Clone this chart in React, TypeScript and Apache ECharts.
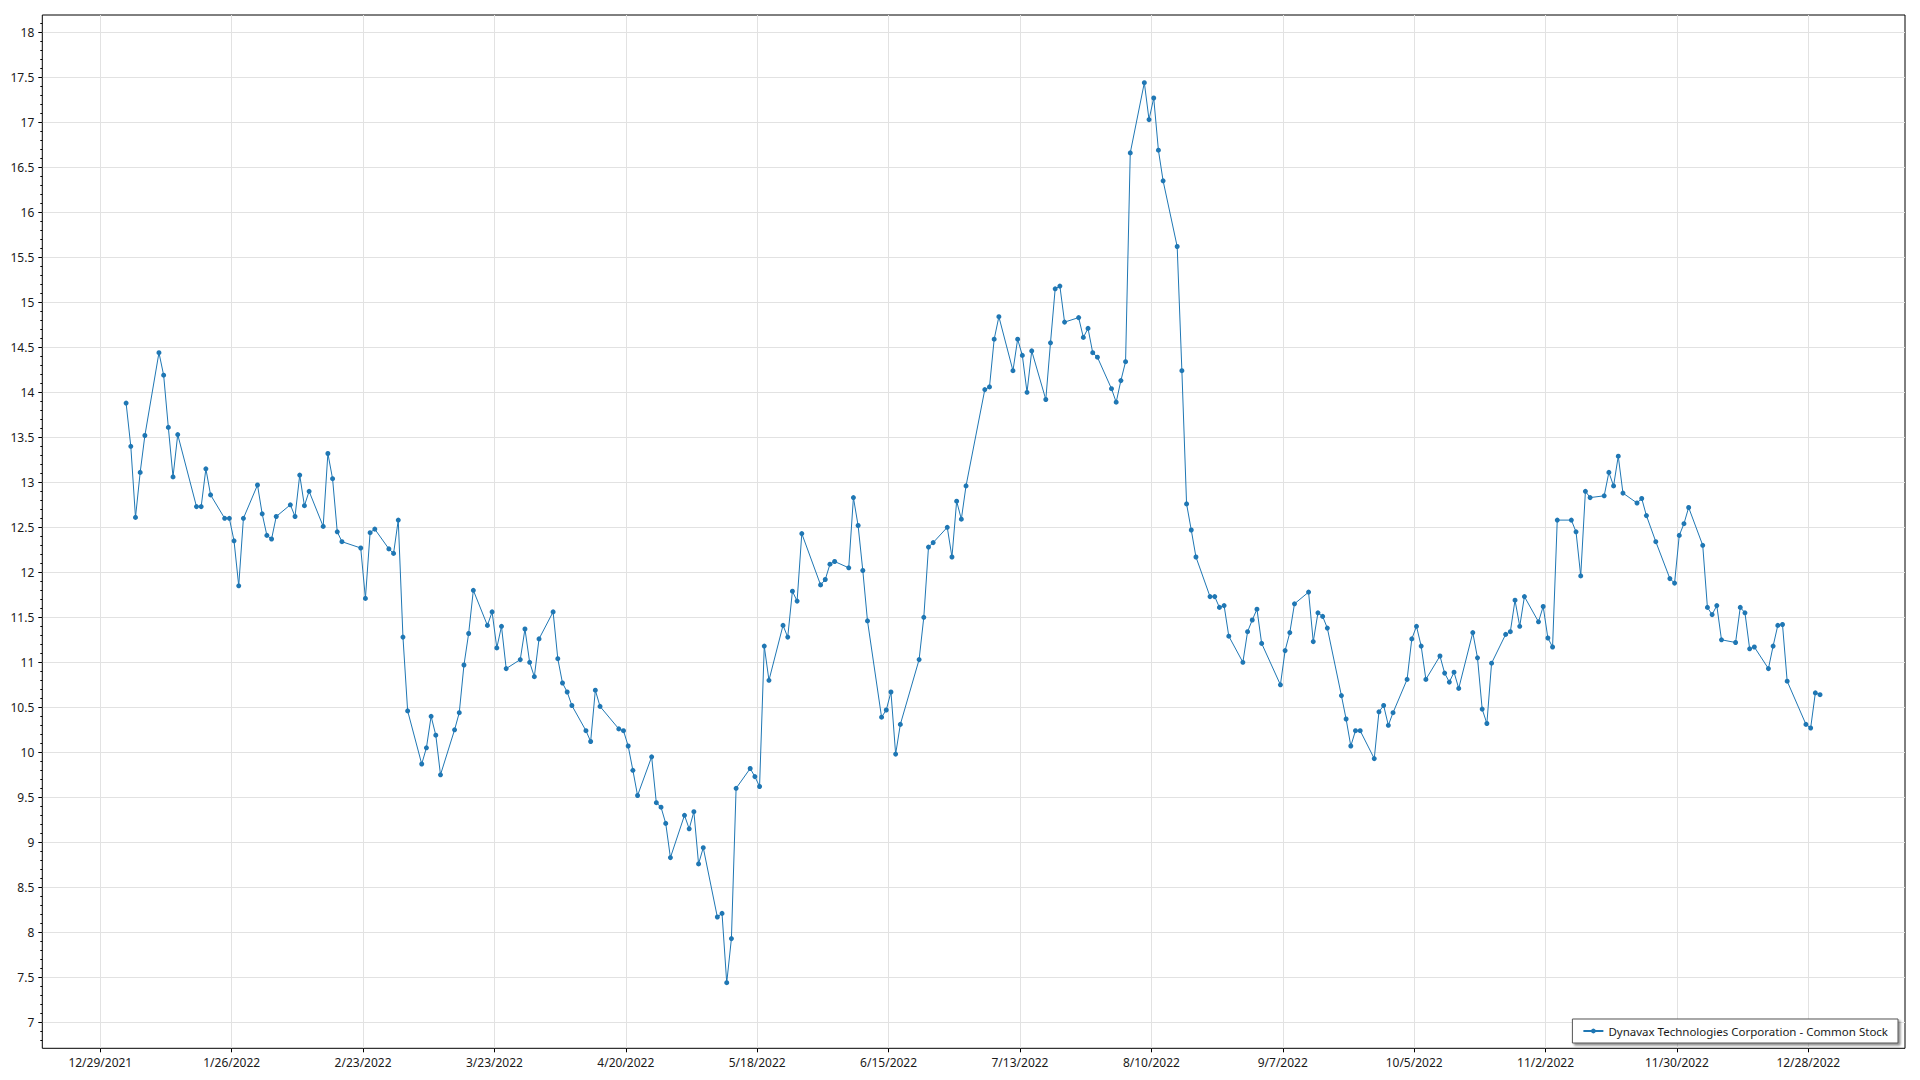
import React, { useEffect, useRef } from "react";
import * as echarts from "echarts";

const SERIES_NAME = "Dynavax Technologies Corporation - Common Stock";
const YEAR = 2022;

// Trading days and closing prices, month by month (2022)
const janDays = [3, 4, 5, 6, 7, 10, 11, 12, 13, 14, 18, 19, 20, 21, 24, 25, 26, 27, 28, 31];
const janValues = [13.88, 13.4, 12.61, 13.11, 13.52, 14.44, 14.19, 13.61, 13.06, 13.53, 12.73, 12.73, 13.15, 12.86, 12.6, 12.6, 12.35, 11.85, 12.6, 12.97];
const febDays = [1, 2, 3, 4, 7, 8, 9, 10, 11, 14, 15, 16, 17, 18, 22, 23, 24, 25, 28];
const febValues = [12.65, 12.41, 12.37, 12.62, 12.75, 12.62, 13.08, 12.74, 12.9, 12.51, 13.32, 13.04, 12.45, 12.34, 12.27, 11.71, 12.44, 12.48, 12.26];
const marDays = [1, 2, 3, 4, 7, 8, 9, 10, 11, 14, 15, 16, 17, 18, 21, 22, 23, 24, 25, 28, 29, 30, 31];
const marValues = [12.21, 12.58, 11.28, 10.46, 9.87, 10.05, 10.4, 10.19, 9.75, 10.25, 10.44, 10.97, 11.32, 11.8, 11.41, 11.56, 11.16, 11.4, 10.93, 11.03, 11.37, 11.0, 10.84];
const aprDays = [1, 4, 5, 6, 7, 8, 11, 12, 13, 14, 18, 19, 20, 21, 22, 25, 26, 27, 28, 29];
const aprValues = [11.26, 11.56, 11.04, 10.77, 10.67, 10.52, 10.24, 10.12, 10.69, 10.51, 10.26, 10.24, 10.07, 9.8, 9.52, 9.95, 9.44, 9.39, 9.21, 8.83];
const mayDays = [2, 3, 4, 5, 6, 9, 10, 11, 12, 13, 16, 17, 18, 19, 20, 23, 24, 25, 26, 27, 31];
const mayValues = [9.3, 9.15, 9.34, 8.76, 8.94, 8.17, 8.21, 7.44, 7.93, 9.6, 9.82, 9.73, 9.62, 11.18, 10.8, 11.41, 11.28, 11.79, 11.68, 12.43, 11.86];
const junDays = [1, 2, 3, 6, 7, 8, 9, 10, 13, 14, 15, 16, 17, 21, 22, 23, 24, 27, 28, 29, 30];
const junValues = [11.92, 12.09, 12.12, 12.05, 12.83, 12.52, 12.02, 11.46, 10.39, 10.47, 10.67, 9.98, 10.31, 11.03, 11.5, 12.28, 12.33, 12.5, 12.17, 12.79, 12.59];
const julDays = [1, 5, 6, 7, 8, 11, 12, 13, 14, 15, 18, 19, 20, 21, 22, 25, 26, 27, 28, 29];
const julValues = [12.96, 14.03, 14.06, 14.59, 14.84, 14.24, 14.59, 14.41, 14.0, 14.46, 13.92, 14.55, 15.15, 15.18, 14.78, 14.83, 14.61, 14.71, 14.44, 14.39];
const augDays = [1, 2, 3, 4, 5, 8, 9, 10, 11, 12, 15, 16, 17, 18, 19, 22, 23, 24, 25, 26, 29, 30, 31];
const augValues = [14.04, 13.89, 14.13, 14.34, 16.66, 17.44, 17.03, 17.27, 16.69, 16.35, 15.62, 14.24, 12.76, 12.47, 12.17, 11.73, 11.73, 11.61, 11.63, 11.29, 11.0, 11.34, 11.47];
const sepDays = [1, 2, 6, 7, 8, 9, 12, 13, 14, 15, 16, 19, 20, 21, 22, 23, 26, 27, 28, 29, 30];
const sepValues = [11.59, 11.21, 10.75, 11.13, 11.33, 11.65, 11.78, 11.23, 11.55, 11.51, 11.38, 10.63, 10.37, 10.07, 10.24, 10.24, 9.93, 10.45, 10.52, 10.3, 10.44];
const octDays = [3, 4, 5, 6, 7, 10, 11, 12, 13, 14, 17, 18, 19, 20, 21, 24, 25, 26, 27, 28, 31];
const octValues = [10.81, 11.26, 11.4, 11.18, 10.81, 11.07, 10.88, 10.78, 10.89, 10.71, 11.33, 11.05, 10.48, 10.32, 10.99, 11.31, 11.34, 11.69, 11.4, 11.73, 11.45];
const novDays = [1, 2, 3, 4, 7, 8, 9, 10, 11, 14, 15, 16, 17, 18, 21, 22, 23, 25, 28, 29, 30];
const novValues = [11.62, 11.27, 11.17, 12.58, 12.58, 12.45, 11.96, 12.9, 12.83, 12.85, 13.11, 12.96, 13.29, 12.88, 12.77, 12.82, 12.63, 12.34, 11.93, 11.88, 12.41];
const decDays = [1, 2, 5, 6, 7, 8, 9, 12, 13, 14, 15, 16, 19, 20, 21, 22, 23, 27, 28, 29, 30];
const decValues = [12.54, 12.72, 12.3, 11.61, 11.53, 11.63, 11.25, 11.22, 11.61, 11.55, 11.15, 11.17, 10.93, 11.18, 11.41, 11.42, 10.79, 10.31, 10.27, 10.66, 10.64];

const monthDays = [janDays, febDays, marDays, aprDays, mayDays, junDays, julDays, augDays, sepDays, octDays, novDays, decDays];
const monthValues = [janValues, febValues, marValues, aprValues, mayValues, junValues, julValues, augValues, sepValues, octValues, novValues, decValues];

// X tick labels: every 28 days starting 12/29/2021
const X_TICK_ORIGIN = Date.UTC(2021, 11, 29);
const X_TICK_STEP_DAYS = 28;
const X_TICK_COUNT = 13;
// Y tick labels
const Y_TICK_MIN = 7;
const Y_TICK_MAX = 18;
const Y_TICK_STEP = 0.5;
// Y minor ticks
const Y_MINOR_MIN = 6.8;
const Y_MINOR_MAX = 18.1;
const Y_MINOR_STEP = 0.1;

const DAY_MS = 86400000;
const FONT = '"Segoe UI", "Noto Sans", sans-serif';
const LINE_COLOR = "#1f77b4";
const GRID_COLOR = "#e2e2e2";

function buildData(): [number, number][] {
  const out: [number, number][] = [];
  monthDays.forEach((days, m) => {
    days.forEach((d, i) => {
      const t = Date.UTC(YEAR, m, d, 12);
      out.push([(t - X_TICK_ORIGIN) / DAY_MS, monthValues[m][i]]);
    });
  });
  return out;
}

function fmtDate(v: number): string {
  const dt = new Date(X_TICK_ORIGIN + Math.round(v) * DAY_MS);
  return `${dt.getUTCMonth() + 1}/${dt.getUTCDate()}/${dt.getUTCFullYear()}`;
}

export default function App() {
  const ref = useRef<HTMLDivElement>(null);
  useEffect(() => {
    if (!ref.current) return;
    const chart = echarts.init(ref.current, undefined, { renderer: "svg" });
    const pxPerDay = (1808.3 - 100.3) / (X_TICK_STEP_DAYS * X_TICK_COUNT);
    const pxPerUnit = 90;
    const yOf = (v: number) => 32.3 + (Y_TICK_MAX - v) * pxPerUnit;
    const option: any = {
      animation: false,
      backgroundColor: "#ffffff",
      grid: [
        { left: 42.3, top: 15, right: 15, bottom: 31.7, show: true, borderColor: "#000", borderWidth: 1, backgroundColor: "transparent" },
        { left: 42.3, top: 32.3, right: 15, bottom: 1080 - yOf(Y_TICK_MIN) },
        { left: 100.3, top: 15, right: 111.7, bottom: 31.7 },
        { left: 42.3, top: yOf(Y_MINOR_MAX), right: 15, bottom: 1080 - yOf(Y_MINOR_MIN) },
      ],
      xAxis: [
        {
          gridIndex: 0,
          type: "value",
          min: -(100.3 - 42.3) / pxPerDay,
          max: X_TICK_STEP_DAYS * X_TICK_COUNT + (1905 - 1808.3) / pxPerDay,
          show: false,
        },
        { gridIndex: 1, type: "value", min: 0, max: 1, show: false },
        {
          gridIndex: 2,
          type: "value",
          min: 0,
          max: X_TICK_STEP_DAYS * X_TICK_COUNT,
          interval: X_TICK_STEP_DAYS,
          axisLine: { show: false },
          axisTick: { show: true, inside: false, length: 4, lineStyle: { color: "#000" } },
          axisLabel: { formatter: fmtDate, margin: 8, fontSize: 12, color: "#1a1a1a", fontFamily: FONT },
          splitLine: { show: true, lineStyle: { color: GRID_COLOR, width: 1 } },
        },
        { gridIndex: 3, type: "value", min: 0, max: 1, show: false },
      ],
      yAxis: [
        {
          gridIndex: 0,
          type: "value",
          min: Y_TICK_MIN - (1048.3 - yOf(Y_TICK_MIN)) / pxPerUnit,
          max: Y_TICK_MAX + (32.3 - 15) / pxPerUnit,
          show: false,
        },
        {
          gridIndex: 1,
          type: "value",
          min: Y_TICK_MIN,
          max: Y_TICK_MAX,
          interval: Y_TICK_STEP,
          axisLine: { show: false },
          axisTick: { show: true, inside: false, length: 4, lineStyle: { color: "#000" } },
          axisLabel: { margin: 8, fontSize: 12, color: "#1a1a1a", fontFamily: FONT },
          splitLine: { show: true, lineStyle: { color: GRID_COLOR, width: 1 } },
        },
        { gridIndex: 2, type: "value", min: 0, max: 1, show: false },
        {
          gridIndex: 3,
          type: "value",
          min: Y_MINOR_MIN,
          max: Y_MINOR_MAX,
          interval: Y_MINOR_STEP,
          axisLine: { show: false },
          axisTick: { show: true, inside: false, length: 2, lineStyle: { color: "#000" } },
          axisLabel: { show: false },
          splitLine: { show: false },
        },
      ],
      legend: {
        show: true,
        selectedMode: false,
        right: 22,
        bottom: 37,
        orient: "horizontal",
        backgroundColor: "#ffffff",
        borderColor: "#555",
        borderWidth: 1,
        borderRadius: 0,
        padding: [6, 10, 6, 10],
        itemWidth: 20,
        itemHeight: 6,
        shadowColor: "rgba(0,0,0,0.45)",
        shadowBlur: 2,
        shadowOffsetX: 2,
        shadowOffsetY: 2,
        textStyle: { fontSize: 11.5, color: "#1a1a1a", fontFamily: FONT },
        data: [SERIES_NAME],
      },
      series: [
        {
          name: SERIES_NAME,
          type: "line",
          xAxisIndex: 0,
          yAxisIndex: 0,
          data: buildData(),
          symbol: "circle",
          symbolSize: 5,
          showSymbol: true,
          showAllSymbol: true,
          lineStyle: { width: 1, color: LINE_COLOR },
          itemStyle: { color: LINE_COLOR },
          z: 10,
        },
      ],
    };
    chart.setOption(option);
    return () => chart.dispose();
  }, []);
  return (
    <div
      ref={ref}
      style={{ position: "fixed", left: 0, top: 0, width: 1920, height: 1080, background: "#fff" }}
    />
  );
}
